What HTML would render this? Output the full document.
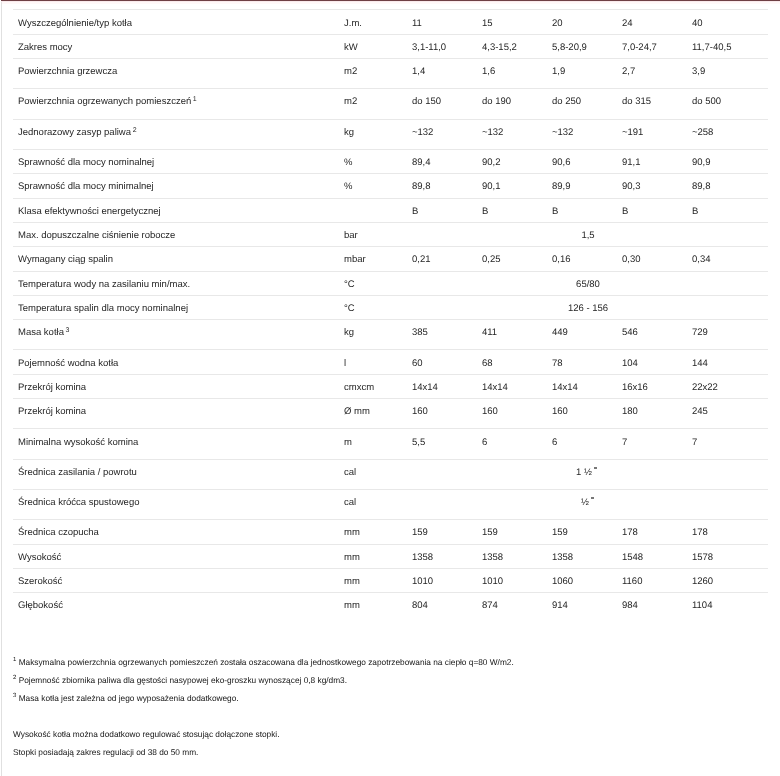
<!DOCTYPE html>
<html><head><meta charset="utf-8"><style>
html,body{margin:0;padding:0;background:#fff;}
body{width:780px;height:776px;position:relative;overflow:hidden;font-family:"Liberation Sans",sans-serif;text-rendering:geometricPrecision;}
.top{position:absolute;left:1px;top:0;width:779px;height:1px;background:#6e3f44;}
.top2{position:absolute;left:1px;top:1px;width:779px;height:1px;background:#f9eaec;}
.top3{position:absolute;left:2px;top:2px;width:778px;height:2px;background:#fff8f8;}
.lb{position:absolute;left:1px;top:0;width:1px;height:776px;background:#e0e0e0;}
.ln{position:absolute;left:13px;width:755px;height:1px;background:#e8e8e8;}
.t{position:absolute;font-size:9.5px;line-height:0;color:#262626;white-space:nowrap;}
.t sup{font-size:7px;vertical-align:0;position:relative;top:-3.5px;margin-left:-1px;}
.wrap{position:absolute;left:0;top:0;width:780px;height:776px;will-change:transform;}
.mk{position:absolute;width:3px;height:2px;background:#777;}
.c{transform:translateX(-50%);}
.f{position:absolute;font-size:8.3px;line-height:0;color:#151515;white-space:nowrap;}
.f sup{font-size:6px;vertical-align:0;position:relative;top:-4px;}
</style></head><body>
<div class="lb"></div><div class="top"></div><div class="top2"></div><div class="top3"></div>
<div class="wrap">
<div class="ln" style="top:9px"></div>
<div class="t" style="left:18px;top:24px">Wyszczególnienie/typ kotła</div>
<div class="t" style="left:344px;top:24px">J.m.</div>
<div class="t" style="left:412px;top:24px">11</div>
<div class="t" style="left:482px;top:24px">15</div>
<div class="t" style="left:552px;top:24px">20</div>
<div class="t" style="left:622px;top:24px">24</div>
<div class="t" style="left:692px;top:24px">40</div>
<div class="ln" style="top:34px"></div>
<div class="t" style="left:18px;top:48px">Zakres mocy</div>
<div class="t" style="left:344px;top:48px">kW</div>
<div class="t" style="left:412px;top:48px">3,1-11,0</div>
<div class="t" style="left:482px;top:48px">4,3-15,2</div>
<div class="t" style="left:552px;top:48px">5,8-20,9</div>
<div class="t" style="left:622px;top:48px">7,0-24,7</div>
<div class="t" style="left:692px;top:48px">11,7-40,5</div>
<div class="ln" style="top:58px"></div>
<div class="t" style="left:18px;top:72px">Powierzchnia grzewcza</div>
<div class="t" style="left:344px;top:72px">m2</div>
<div class="t" style="left:412px;top:72px">1,4</div>
<div class="t" style="left:482px;top:72px">1,6</div>
<div class="t" style="left:552px;top:72px">1,9</div>
<div class="t" style="left:622px;top:72px">2,7</div>
<div class="t" style="left:692px;top:72px">3,9</div>
<div class="ln" style="top:88px"></div>
<div class="t" style="left:18px;top:102px">Powierzchnia ogrzewanych pomieszczeń <sup>1</sup></div>
<div class="t" style="left:344px;top:102px">m2</div>
<div class="t" style="left:412px;top:102px">do 150</div>
<div class="t" style="left:482px;top:102px">do 190</div>
<div class="t" style="left:552px;top:102px">do 250</div>
<div class="t" style="left:622px;top:102px">do 315</div>
<div class="t" style="left:692px;top:102px">do 500</div>
<div class="ln" style="top:119px"></div>
<div class="t" style="left:18px;top:133px">Jednorazowy zasyp paliwa <sup>2</sup></div>
<div class="t" style="left:344px;top:133px">kg</div>
<div class="t" style="left:412px;top:133px">~132</div>
<div class="t" style="left:482px;top:133px">~132</div>
<div class="t" style="left:552px;top:133px">~132</div>
<div class="t" style="left:622px;top:133px">~191</div>
<div class="t" style="left:692px;top:133px">~258</div>
<div class="ln" style="top:149px"></div>
<div class="t" style="left:18px;top:163px">Sprawność dla mocy nominalnej</div>
<div class="t" style="left:344px;top:163px">%</div>
<div class="t" style="left:412px;top:163px">89,4</div>
<div class="t" style="left:482px;top:163px">90,2</div>
<div class="t" style="left:552px;top:163px">90,6</div>
<div class="t" style="left:622px;top:163px">91,1</div>
<div class="t" style="left:692px;top:163px">90,9</div>
<div class="ln" style="top:173px"></div>
<div class="t" style="left:18px;top:187px">Sprawność dla mocy minimalnej</div>
<div class="t" style="left:344px;top:187px">%</div>
<div class="t" style="left:412px;top:187px">89,8</div>
<div class="t" style="left:482px;top:187px">90,1</div>
<div class="t" style="left:552px;top:187px">89,9</div>
<div class="t" style="left:622px;top:187px">90,3</div>
<div class="t" style="left:692px;top:187px">89,8</div>
<div class="ln" style="top:198px"></div>
<div class="t" style="left:18px;top:212px">Klasa efektywności energetycznej</div>
<div class="t" style="left:412px;top:212px">B</div>
<div class="t" style="left:482px;top:212px">B</div>
<div class="t" style="left:552px;top:212px">B</div>
<div class="t" style="left:622px;top:212px">B</div>
<div class="t" style="left:692px;top:212px">B</div>
<div class="ln" style="top:222px"></div>
<div class="t" style="left:18px;top:236px">Max. dopuszczalne ciśnienie robocze</div>
<div class="t" style="left:344px;top:236px">bar</div>
<div class="t c" style="left:588px;top:236px">1,5</div>
<div class="ln" style="top:246px"></div>
<div class="t" style="left:18px;top:260px">Wymagany ciąg spalin</div>
<div class="t" style="left:344px;top:260px">mbar</div>
<div class="t" style="left:412px;top:260px">0,21</div>
<div class="t" style="left:482px;top:260px">0,25</div>
<div class="t" style="left:552px;top:260px">0,16</div>
<div class="t" style="left:622px;top:260px">0,30</div>
<div class="t" style="left:692px;top:260px">0,34</div>
<div class="ln" style="top:271px"></div>
<div class="t" style="left:18px;top:285px">Temperatura wody na zasilaniu min/max.</div>
<div class="t" style="left:344px;top:285px">°C</div>
<div class="t c" style="left:588px;top:285px">65/80</div>
<div class="ln" style="top:295px"></div>
<div class="t" style="left:18px;top:309px">Temperatura spalin dla mocy nominalnej</div>
<div class="t" style="left:344px;top:309px">°C</div>
<div class="t c" style="left:588px;top:309px">126 - 156</div>
<div class="ln" style="top:319px"></div>
<div class="t" style="left:18px;top:333px">Masa kotła <sup>3</sup></div>
<div class="t" style="left:344px;top:333px">kg</div>
<div class="t" style="left:412px;top:333px">385</div>
<div class="t" style="left:482px;top:333px">411</div>
<div class="t" style="left:552px;top:333px">449</div>
<div class="t" style="left:622px;top:333px">546</div>
<div class="t" style="left:692px;top:333px">729</div>
<div class="ln" style="top:349px"></div>
<div class="t" style="left:18px;top:364px">Pojemność wodna kotła</div>
<div class="t" style="left:344px;top:364px">l</div>
<div class="t" style="left:412px;top:364px">60</div>
<div class="t" style="left:482px;top:364px">68</div>
<div class="t" style="left:552px;top:364px">78</div>
<div class="t" style="left:622px;top:364px">104</div>
<div class="t" style="left:692px;top:364px">144</div>
<div class="ln" style="top:374px"></div>
<div class="t" style="left:18px;top:388px">Przekrój komina</div>
<div class="t" style="left:344px;top:388px">cmxcm</div>
<div class="t" style="left:412px;top:388px">14x14</div>
<div class="t" style="left:482px;top:388px">14x14</div>
<div class="t" style="left:552px;top:388px">14x14</div>
<div class="t" style="left:622px;top:388px">16x16</div>
<div class="t" style="left:692px;top:388px">22x22</div>
<div class="ln" style="top:398px"></div>
<div class="t" style="left:18px;top:412px">Przekrój komina</div>
<div class="t" style="left:344px;top:412px">Ø mm</div>
<div class="t" style="left:412px;top:412px">160</div>
<div class="t" style="left:482px;top:412px">160</div>
<div class="t" style="left:552px;top:412px">160</div>
<div class="t" style="left:622px;top:412px">180</div>
<div class="t" style="left:692px;top:412px">245</div>
<div class="ln" style="top:428px"></div>
<div class="t" style="left:18px;top:443px">Minimalna wysokość komina</div>
<div class="t" style="left:344px;top:443px">m</div>
<div class="t" style="left:412px;top:443px">5,5</div>
<div class="t" style="left:482px;top:443px">6</div>
<div class="t" style="left:552px;top:443px">6</div>
<div class="t" style="left:622px;top:443px">7</div>
<div class="t" style="left:692px;top:443px">7</div>
<div class="ln" style="top:459px"></div>
<div class="t" style="left:18px;top:473px">Średnica zasilania / powrotu</div>
<div class="t" style="left:344px;top:473px">cal</div>
<div class="t" style="left:576px;top:473px">1 ½</div>
<div class="mk" style="left:594px;top:467px"></div>
<div class="ln" style="top:489px"></div>
<div class="t" style="left:18px;top:503px">Średnica króćca spustowego</div>
<div class="t" style="left:344px;top:503px">cal</div>
<div class="t" style="left:581px;top:503px">½</div>
<div class="mk" style="left:591px;top:497px"></div>
<div class="ln" style="top:519px"></div>
<div class="t" style="left:18px;top:533px">Średnica czopucha</div>
<div class="t" style="left:344px;top:533px">mm</div>
<div class="t" style="left:412px;top:533px">159</div>
<div class="t" style="left:482px;top:533px">159</div>
<div class="t" style="left:552px;top:533px">159</div>
<div class="t" style="left:622px;top:533px">178</div>
<div class="t" style="left:692px;top:533px">178</div>
<div class="ln" style="top:544px"></div>
<div class="t" style="left:18px;top:558px">Wysokość</div>
<div class="t" style="left:344px;top:558px">mm</div>
<div class="t" style="left:412px;top:558px">1358</div>
<div class="t" style="left:482px;top:558px">1358</div>
<div class="t" style="left:552px;top:558px">1358</div>
<div class="t" style="left:622px;top:558px">1548</div>
<div class="t" style="left:692px;top:558px">1578</div>
<div class="ln" style="top:568px"></div>
<div class="t" style="left:18px;top:582px">Szerokość</div>
<div class="t" style="left:344px;top:582px">mm</div>
<div class="t" style="left:412px;top:582px">1010</div>
<div class="t" style="left:482px;top:582px">1010</div>
<div class="t" style="left:552px;top:582px">1060</div>
<div class="t" style="left:622px;top:582px">1160</div>
<div class="t" style="left:692px;top:582px">1260</div>
<div class="ln" style="top:592px"></div>
<div class="t" style="left:18px;top:606px">Głębokość</div>
<div class="t" style="left:344px;top:606px">mm</div>
<div class="t" style="left:412px;top:606px">804</div>
<div class="t" style="left:482px;top:606px">874</div>
<div class="t" style="left:552px;top:606px">914</div>
<div class="t" style="left:622px;top:606px">984</div>
<div class="t" style="left:692px;top:606px">1104</div>
<div class="f" style="left:13px;top:662px"><sup>1</sup> Maksymalna powierzchnia ogrzewanych pomieszczeń została oszacowana dla jednostkowego zapotrzebowania na ciepło q=80 W/m2.</div>
<div class="f" style="left:13px;top:680px"><sup>2</sup> Pojemność zbiornika paliwa dla gęstości nasypowej eko-groszku wynoszącej 0,8 kg/dm3.</div>
<div class="f" style="left:13px;top:698px"><sup>3</sup> Masa kotła jest zależna od jego wyposażenia dodatkowego.</div>
<div class="f" style="left:13px;top:734px">Wysokość kotła można dodatkowo regulować stosując dołączone stopki.</div>
<div class="f" style="left:13px;top:752px">Stopki posiadają zakres regulacji od 38 do 50 mm.</div>
</div>
</body></html>
